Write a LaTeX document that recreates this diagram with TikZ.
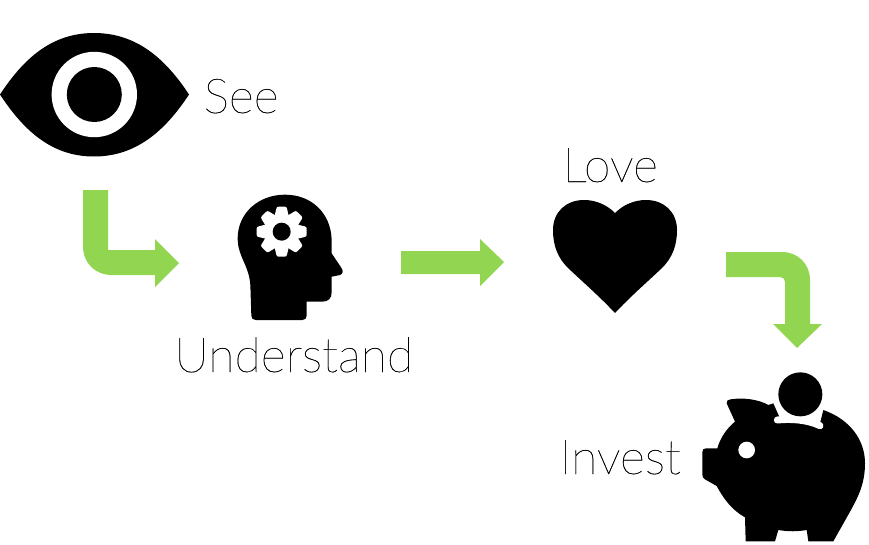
\documentclass[tikz,border=0pt]{standalone}
\usepackage{fontspec}
\setmainfont[FakeBold=0.4]{Lato Thin}
\definecolor{arrowgreen}{HTML}{92D550}
\tikzset{
  blockarrow/.style={fill=arrowgreen,draw=none},
  icon/.style={fill=black,draw=none},
  iconcut/.style={fill=white,draw=none},
  caption/.style={anchor=base west,inner sep=0pt,font=\fontsize{48.2}{48.2}\selectfont}
}
\begin{document}
\begin{tikzpicture}[x=1pt,y=-1pt]
\useasboundingbox (0,0) rectangle (869,544);
% eye
\fill[icon] (0,94.5) .. controls (24,58) and (52,33) .. (94,33) .. controls (136,33) and (165,58) .. (189,94.5)
  .. controls (165,131) and (136,156.5) .. (94,156.5) .. controls (52,156.5) and (24,131) .. (0,94.5) -- cycle;
\fill[iconcut] (94.3,94.5) circle (42.7);
\fill[icon] (94.3,94.5) circle (27.5);
\node[caption] (see) at (203.5,113) {See};
% arrow 1
\fill[blockarrow] (83,190) -- (108,190) -- (108,250) -- (155,250) -- (155,239) -- (179,263) -- (155,287) -- (155,275)
  -- (112,275) .. controls (95,275) and (83,263) .. (83,246) -- cycle;
% head
\begin{scope}[shift={(225,185)},scale=1/3]
\fill[icon] (180,29) .. controls (100,29) and (38,85) .. (38,160)
  .. controls (38,215) and (72,240) .. (76,300) -- (79,392) .. controls (79,400) and (84,405) .. (92,405)
  -- (232,405) .. controls (240,405) and (245,400) .. (245,392) -- (245,350) -- (292,350)
  .. controls (310,350) and (320,340) .. (320,322) -- (320,275) -- (345,270)
  .. controls (354,267) and (355,258) .. (350,250) -- (320,205) -- (320,165)
  .. controls (318,85) and (260,29) .. (180,29) -- cycle;
\fill[iconcut] (170,140) circle (51);
\foreach \a in {0,45,...,315}{
  \fill[iconcut,rotate around={\a:(170,140)}] (161,65) -- (179,65) .. controls (183,65) and (185,67) .. (186,71) -- (193,100) -- (147,100) -- (154,71) .. controls (155,67) and (157,65) .. (161,65) -- cycle;
}
\fill[icon] (170,140) circle (27);
\end{scope}
\node[caption] (understand) at (174,372) {Understand};
% arrow 2
\fill[blockarrow] (401,251) -- (480,251) -- (480,239) -- (504,262) -- (480,286) -- (480,274) -- (401,274) -- cycle;
% heart
\fill[icon] (615,313) .. controls (600,297) and (584,283) .. (568,268) .. controls (558,258) and (553,246) .. (553,230)
  .. controls (553,212) and (566,200) .. (584,200) .. controls (596,200) and (607,205) .. (615,213)
  .. controls (623,205) and (634,200) .. (646,200) .. controls (664,200) and (677,212) .. (677,230)
  .. controls (677,246) and (672,258) .. (662,268) .. controls (646,283) and (630,297) .. (615,313) -- cycle;
\node[caption] (love) at (562.5,182) {Love};
% arrow 3
\fill[blockarrow] (726,252) -- (782,252) .. controls (798,252) and (810,264) .. (810,280) -- (810,324) -- (822,324)
  -- (797,348) -- (773,324) -- (785,324) -- (785,282) .. controls (785,279) and (783,277) .. (780,277) -- (726,277) -- cycle;
% pig
\begin{scope}[shift={(690,360)},scale=1/3]
\fill[icon] (122,118) .. controls (160,112) and (205,118) .. (235,135) -- (250,130) -- (270,175) -- (390,190) -- (400,150)
  .. controls (480,178) and (525,240) .. (525,310) .. controls (525,370) and (505,410) .. (480,455)
  -- (430,544) -- (355,544) -- (350,510) .. controls (320,515) and (295,515) .. (265,510)
  -- (255,544) -- (167,544) -- (165,472) .. controls (125,450) and (100,415) .. (80,378)
  -- (45,358) .. controls (39,354) and (37,350) .. (37,344) -- (37,276) .. controls (37,269) and (41,265) .. (48,265)
  -- (82,265) .. controls (90,235) and (110,205) .. (135,185) -- (110,130) .. controls (108,122) and (114,119) .. (122,118) -- cycle;
\fill[iconcut] (331,103) circle (76);
\draw[white,line width=7pt,line cap=round] (262,180) .. controls (300,176) and (350,178) .. (390,197);
\fill[icon] (331,103) circle (66);
\fill[iconcut] (170,270) circle (25);
\end{scope}
\node[caption] (invest) at (559.5,474) {Invest};
\end{tikzpicture}
\end{document}
